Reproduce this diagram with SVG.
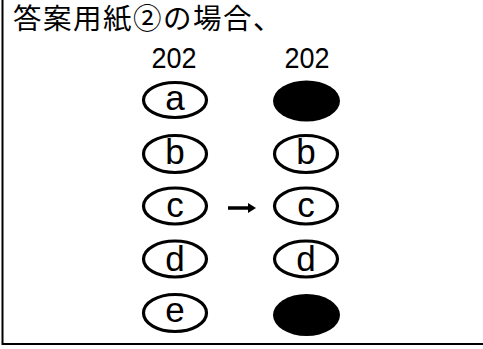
<svg xmlns="http://www.w3.org/2000/svg" width="483" height="349" viewBox="0 0 483 349">
<style>
.title{font-family:"Liberation Sans","Noto Sans CJK JP","Noto Sans CJK SC",sans-serif;font-size:28.5px;letter-spacing:1.5px;fill:#000}
.num{font-family:"Liberation Sans",Arial,sans-serif;font-size:29.5px;fill:#000;text-anchor:middle}
.ring{fill:#fff;stroke:#000;stroke-width:3.2}
.fill{fill:#000;stroke:none}
.let{font-family:"Liberation Sans",Arial,sans-serif;font-size:35px;fill:#000;text-anchor:middle}
.frame{stroke:#000;stroke-width:2;fill:none}
</style>
<defs>
<marker id="ah" markerWidth="8" markerHeight="10" refX="1" refY="5" orient="auto" markerUnits="userSpaceOnUse">
<path d="M0,0 L8,5 L0,10 Z" fill="#000"/>
</marker>
</defs>
<rect width="483" height="349" fill="#fff"/>
<path class="frame" d="M2.5,0 V344 H483"/>
<text class="title" x="13" y="29">答案用紙②の場合、</text>
<text class="num" x="174" y="68" textLength="45" lengthAdjust="spacingAndGlyphs">202</text>
<text class="num" x="307" y="68" textLength="45" lengthAdjust="spacingAndGlyphs">202</text>
<g id="left-a"><ellipse class="ring" cx="175" cy="100" rx="31.5" ry="17.5"/><text class="let" x="175" y="110">a</text></g>
<g id="left-b"><ellipse class="ring" cx="175" cy="154" rx="31.5" ry="18.5"/><text class="let" x="175" y="164">b</text></g>
<g id="left-c"><ellipse class="ring" cx="175" cy="206" rx="31.5" ry="18"/><text class="let" x="175" y="217">c</text></g>
<g id="left-d"><ellipse class="ring" cx="175" cy="259" rx="31.5" ry="18"/><text class="let" x="175" y="271">d</text></g>
<g id="left-e"><ellipse class="ring" cx="175" cy="313" rx="31.5" ry="18.5"/><text class="let" x="175" y="322">e</text></g>
<g id="right-a"><ellipse class="fill" cx="306.5" cy="101" rx="33.5" ry="20.5"/></g>
<g id="right-b"><ellipse class="ring" cx="306" cy="154" rx="31.5" ry="18.5"/><text class="let" x="306" y="164">b</text></g>
<g id="right-c"><ellipse class="ring" cx="306" cy="206" rx="31.5" ry="18"/><text class="let" x="306" y="217">c</text></g>
<g id="right-d"><ellipse class="ring" cx="306" cy="259" rx="31.5" ry="18"/><text class="let" x="306" y="271">d</text></g>
<g id="right-e"><ellipse class="fill" cx="306.5" cy="315" rx="33.5" ry="21"/></g>
<g id="connectors"><line x1="228" y1="208" x2="249" y2="208" stroke="#000" stroke-width="3.5" marker-end="url(#ah)"/></g>
</svg>
